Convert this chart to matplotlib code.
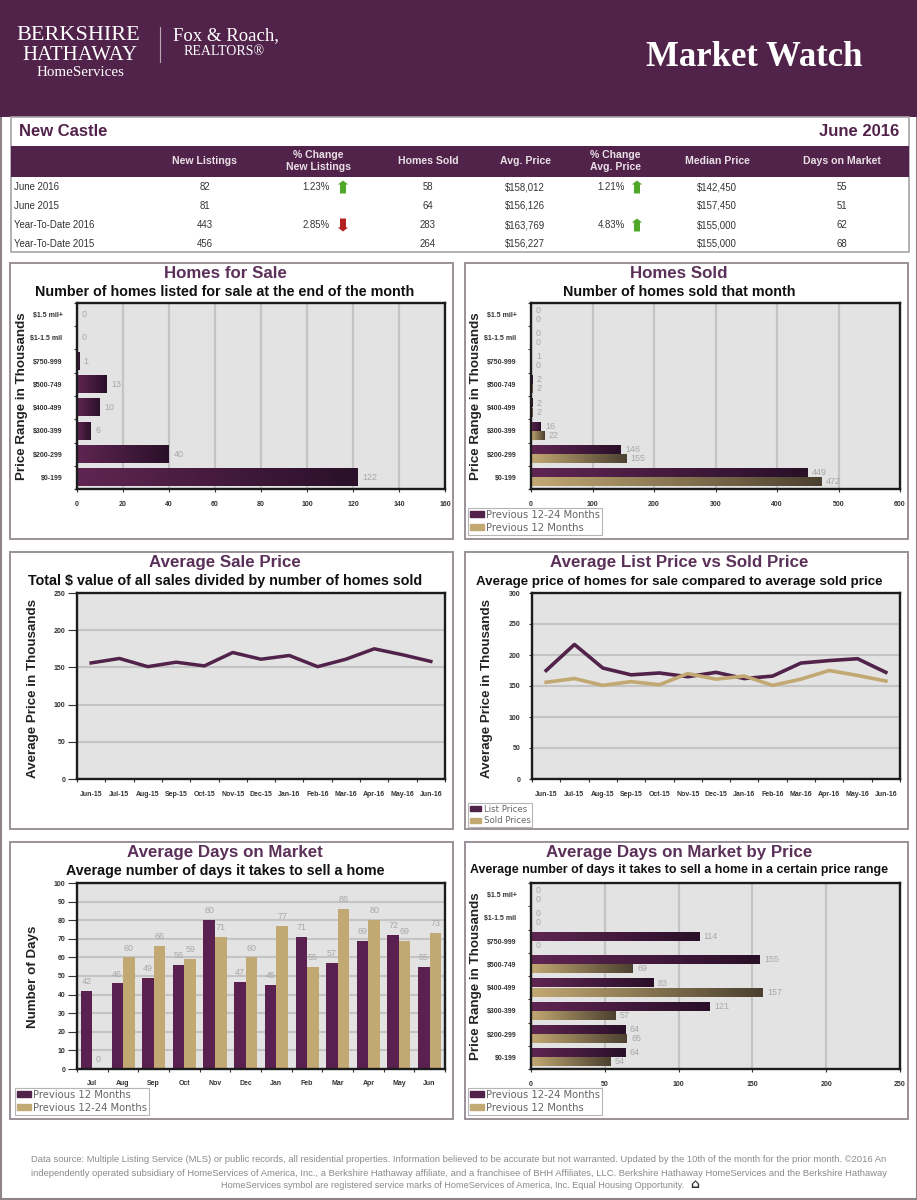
import numpy as np
import matplotlib
matplotlib.use("Agg")
import matplotlib.pyplot as plt
from matplotlib.colors import LinearSegmentedColormap
from matplotlib.patches import Rectangle

plt.rcParams['font.family'] = ['Liberation Sans', 'DejaVu Sans']

# data
price_ranges = ["$0-199", "$200-299", "$300-399", "$400-499", "$500-749", "$750-999", "$1-1.5 mil", "$1.5 mil+"]
for_sale = [122, 40, 6, 10, 13, 1, 0, 0]
sold_prev24 = [449, 146, 16, 2, 2, 1, 0, 0]
sold_prev12 = [472, 155, 22, 2, 2, 0, 0, 0]
months13 = ["Jun-15", "Jul-15", "Aug-15", "Sep-15", "Oct-15", "Nov-15", "Dec-15", "Jan-16", "Feb-16", "Mar-16", "Apr-16", "May-16", "Jun-16"]
sale_price = [156, 162, 151, 157, 152, 170, 161, 166, 151, 161, 175, 167, 158]
list_price = [175, 217, 179, 168, 171, 165, 172, 162, 166, 187, 191, 194, 172]
months12 = ["Jul", "Aug", "Sep", "Oct", "Nov", "Dec", "Jan", "Feb", "Mar", "Apr", "May", "Jun"]
days_prev12 = [42, 46, 49, 56, 80, 47, 45, 71, 57, 69, 72, 55]
days_prev24 = [0, 60, 66, 59, 71, 60, 77, 55, 86, 80, 69, 73]
dom_prev24 = [64, 64, 121, 83, 155, 114, 0, 0]
dom_prev12 = [54, 65, 57, 157, 69, 0, 0, 0]

table_cols = ["New Listings", "% Change\nNew Listings", "Homes Sold", "Avg. Price", "% Change\nAvg. Price", "Median Price", "Days on Market"]
table_rows = ["June 2016", "June 2015", "Year-To-Date 2016", "Year-To-Date 2015"]
new_listings = ["82", "81", "443", "456"]
pct_listings = ["1.23%", "", "2.85%", ""]
homes_sold = ["58", "64", "283", "264"]
avg_price = ["$158,012", "$156,126", "$163,769", "$156,227"]
pct_price = ["1.21%", "", "4.83%", ""]
median_price = ["$142,450", "$157,450", "$155,000", "$155,000"]
days_market = ["55", "51", "62", "68"]

PURPLE = "#52234a"
TAN = "#c2a872"
GREY_TXT = "#a8a8a8"
PLOT_BG = "#e3e3e3"
GRID = "#c4c4c4"
W, H = 917, 1200

fig = plt.figure(figsize=(W / 100, H / 100), dpi=100, facecolor="white")

# page layer, works in pixels
bg = fig.add_axes([0, 0, 1, 1])
bg.set_xlim(0, W)
bg.set_ylim(H, 0)
bg.axis("off")


def box(x0, y0, x1, y1, fc="none", ec="none", lw=1.0):
    bg.add_patch(Rectangle((x0, y0), x1 - x0, y1 - y0, facecolor=fc, edgecolor=ec, linewidth=lw))


box(0.5, 0, W - 0.5, H - 1, ec="#8d8389", lw=1.5)
box(0, 0, W, 117, fc=PURPLE)

serif = "Liberation Serif"
bg.text(78.5, 35.5, "BERKSHIRE", family=serif, color="white", fontsize=16, ha="center", va="center")
bg.text(80, 55.5, "HATHAWAY", family=serif, color="white", fontsize=15, ha="center", va="center")
bg.text(80.5, 72, "HomeServices", family=serif, color="white", fontsize=10.8, ha="center", va="center")
bg.plot([160, 160], [27, 62], color="#b9a5b4", lw=0.8)
bg.text(225.5, 36, "Fox & Roach,", family=serif, color="white", fontsize=13.5, ha="center", va="center")
bg.text(224, 51.5, "REALTORS®", family=serif, color="white", fontsize=10, ha="center", va="center")
bg.text(754, 57, "Market Watch", family=serif, weight="bold", color="white", fontsize=25, ha="center", va="center")

# table
bg.text(19, 132, "New Castle", weight="bold", color=PURPLE, fontsize=12, va="center")
bg.text(899, 132, "June 2016", weight="bold", color=PURPLE, fontsize=12, va="center", ha="right")
box(11, 117, 909, 252, ec="#a9a3a7", lw=1.2)
box(11, 146, 909, 177, fc=PURPLE)
col_x = [205, 318, 428, 525, 615, 717, 842]
row_y = [187, 206, 225, 244]
for x, name in zip(col_x, table_cols):
    bg.text(x, 161.5, name, color="#e8e0e6", weight="bold", fontsize=7.6, ha="center", va="center", linespacing=1.25)
for y, name in zip(row_y, table_rows):
    bg.text(14, y + 3, name, color="#333333", fontsize=6.9, va="baseline")
for cx, col in zip([205, 428, 525, 717, 842], [new_listings, homes_sold, avg_price, median_price, days_market]):
    for y, v in zip(row_y, col):
        bg.text(cx, y + 3, v, color="#333333", fontsize=6.9, ha="center", va="baseline")


def arrow(x, y, up):
    s = 1 if up else -1
    c = "#4fa82a" if up else "#b3201f"
    xs = [x - 3, x + 3, x + 3, x + 5.2, x, x - 5.2, x - 3]
    ys = [y + 6.5 * s, y + 6.5 * s, y - 2.5 * s, y - 2.5 * s, y - 6.5 * s, y - 2.5 * s, y - 2.5 * s]
    bg.fill(xs, ys, color=c, lw=0)


for x_t, x_a, col in [(330, 343, pct_listings), (625, 637, pct_price)]:
    for y, v in zip(row_y, col):
        if v:
            bg.text(x_t, y + 3, v, color="#333333", fontsize=6.9, ha="right", va="baseline")
            arrow(x_a, y, v != "2.85%")

# panels
panels = [(10, 263, 453, 539), (465, 263, 908, 539), (10, 552, 453, 829),
          (465, 552, 908, 829), (10, 842, 453, 1119), (465, 842, 908, 1119)]
for p in panels:
    box(*p, fc="white", ec="#9b9099", lw=1.4)


def make_axes(x0, y0, x1, y1):
    ax = fig.add_axes([x0 / W, 1 - y1 / H, (x1 - x0) / W, (y1 - y0) / H], facecolor=PLOT_BG)
    for s in ax.spines.values():
        s.set_linewidth(1.7)
        s.set_color("#1c1c1c")
        s.set_zorder(6)
    ax.set_axisbelow(True)
    return ax


def titles(cx, y, title, sub, sub_size=10.3):
    bg.text(cx, y + 1, title, color="#5b3059", weight="bold", fontsize=12.2, ha="center", va="center")
    bg.text(cx, y + 19.5, sub, color="#111111", weight="bold", fontsize=sub_size, ha="center", va="center")


def y_title(ax, text, x, y):
    ax.set_ylabel(text, fontsize=9.6, color="#222222", weight="bold", va="center")
    ax.yaxis.set_label_coords((x + 3) / W, 1 - (y - 1) / H, transform=fig.transFigure)


def small_ticks(ax):
    for t in ax.get_xticklabels(which="both") + ax.get_yticklabels(which="both"):
        t.set_fontsize(5.0)
        t.set_fontweight("bold")
        t.set_color("#333333")


def shade(ax, bars, colors):
    # gradient fill along each bar
    cmap = LinearSegmentedColormap.from_list("g", colors)
    grad = np.linspace(0, 1, 64).reshape(1, -1)
    for b in bars:
        if b.get_width() > 0:
            x, y, w, h = b.get_bbox().bounds
            ax.imshow(grad, extent=(x, x + w, y, y + h), cmap=cmap, aspect="auto", zorder=3, interpolation="bilinear")


def hbars(ax, series, xmax, step):
    # series: list of (values, colors), first one drawn on top of the group
    n = len(series)
    hgt = 0.78 / n
    pos = np.arange(len(price_ranges)) + 0.5
    for i, (vals, cols) in enumerate(series):
        off = (n - 1) / 2 * hgt - i * hgt
        bars = ax.barh(pos + off, vals, height=hgt * 0.96, color=cols[0], zorder=2)
        shade(ax, bars, cols)
        ax.bar_label(bars, padding=3.2, color=GREY_TXT, fontsize=6.4)
    ax.set_xlim(0, xmax)
    ax.set_ylim(0, len(price_ranges))
    ax.set_xticks(np.arange(0, xmax + step, step))
    ax.set_yticks(np.arange(0, len(price_ranges) + 1))
    ax.set_yticklabels([])
    ax.set_yticks(pos, price_ranges, minor=True)
    ax.grid(axis="x", color=GRID, lw=1.6, zorder=1)
    ax.tick_params(axis="x", length=2, pad=6.5, color="#333333")
    ax.tick_params(axis="y", which="major", length=2.5, color="#333333")
    ax.tick_params(axis="y", which="minor", length=0, pad=10.5)
    small_ticks(ax)


def legend(ax, handles, labels, x, y, size=7.2):
    leg = ax.legend(handles, labels, loc="upper left", bbox_to_anchor=(x / W, 1 - y / H),
                    bbox_transform=fig.transFigure, fancybox=False, framealpha=1, edgecolor="#b5b5b5",
                    prop={"family": "DejaVu Sans", "size": size}, borderaxespad=0, borderpad=0.2,
                    handlelength=1.35, handleheight=0.55, handletextpad=0.25, labelspacing=0.3, labelcolor="#666666")
    leg.get_frame().set_linewidth(0.8)
    return leg


grad_p = ["#5f2552", "#2a1029"]
grad_t = ["#c2a872", "#4c4130"]

# Homes for Sale
ax1 = make_axes(77, 303, 445, 489)
hbars(ax1, [(for_sale, grad_p)], 160, 20)
y_title(ax1, "Price Range in Thousands", 19, 397)
titles(225, 272, "Homes for Sale", "Number of homes listed for sale at the end of the month")

# Homes Sold
ax2 = make_axes(531, 303, 900, 489)
hbars(ax2, [(sold_prev24, grad_p), (sold_prev12, grad_t)], 600, 100)
y_title(ax2, "Price Range in Thousands", 473, 397)
titles(679, 272, "Homes Sold", "Number of homes sold that month")
legend(ax2, [Rectangle((0, 0), 1, 1, color=PURPLE), Rectangle((0, 0), 1, 1, color=TAN)],
       ["Previous 12-24 Months", "Previous 12 Months"], 468, 508)


def line_axes(ax, ymax, length, pad):
    ax.set_xlim(0, 13)
    ax.set_ylim(0, ymax)
    ax.set_yticks(np.arange(0, ymax + 50, 50))
    ax.set_xticks(np.arange(0, 14))
    ax.set_xticklabels([])
    ax.set_xticks(np.arange(13) + 0.5, months13, minor=True)
    ax.grid(axis="y", color=GRID, lw=1.5, zorder=1)
    ax.tick_params(axis="y", length=length, pad=pad, color="#333333")
    ax.tick_params(axis="x", which="major", length=2.5, color="#333333")
    ax.tick_params(axis="x", which="minor", length=0, pad=9)
    small_ticks(ax)


# Average Sale Price
ax3 = make_axes(77, 593, 445, 779)
ax3.plot(np.arange(13) + 0.5, sale_price, color=PURPLE, lw=2.5, zorder=3)
line_axes(ax3, 250, 6.5, 2)
y_title(ax3, "Average Price in Thousands", 30, 689)
titles(225, 562, "Average Sale Price", "Total $ value of all sales divided by number of homes sold", 10.25)

# Average List Price vs Sold Price
ax4 = make_axes(532, 593, 900, 779)
h_list, = ax4.plot(np.arange(13) + 0.5, list_price, color=PURPLE, lw=2.6, zorder=3)
h_sold, = ax4.plot(np.arange(13) + 0.5, sale_price, color=TAN, lw=2.6, zorder=4)
line_axes(ax4, 300, 2.5, 6)
y_title(ax4, "Average Price in Thousands", 484, 689)
titles(679, 562, "Average List Price vs Sold Price", "Average price of homes for sale compared to average sold price", 9.65)
legend(ax4, [Rectangle((0, 0), 1, 1, color=PURPLE), Rectangle((0, 0), 1, 1, color=TAN)],
       ["List Prices", "Sold Prices"], 468, 803, size=6.2)

# Average Days on Market
ax5 = make_axes(77, 883, 445, 1069)
pos = np.arange(12) + 0.5
b_a = ax5.bar(pos - 0.19, days_prev12, width=0.37, color="#5a2150", zorder=3)
b_b = ax5.bar(pos + 0.19, days_prev24, width=0.37, color=TAN, zorder=3)
ax5.bar_label(b_a, padding=3.5, color=GREY_TXT, fontsize=6.4)
ax5.bar_label(b_b, padding=3.5, color=GREY_TXT, fontsize=6.4)
ax5.set_xlim(0, 12)
ax5.set_ylim(0, 100)
ax5.set_yticks(np.arange(0, 110, 10))
ax5.set_xticks(np.arange(0, 13))
ax5.set_xticklabels([])
ax5.set_xticks(pos, months12, minor=True)
ax5.grid(axis="y", color=GRID, lw=1.5, zorder=1)
ax5.tick_params(axis="y", length=6.5, pad=2, color="#333333")
ax5.tick_params(axis="x", which="major", length=2.5, color="#333333")
ax5.tick_params(axis="x", which="minor", length=0, pad=8)
small_ticks(ax5)
y_title(ax5, "Number of Days", 30, 978)
titles(225, 851, "Average Days on Market", "Average number of days it takes to sell a home")
legend(ax5, [Rectangle((0, 0), 1, 1, color=PURPLE), Rectangle((0, 0), 1, 1, color=TAN)],
       ["Previous 12 Months", "Previous 12-24 Months"], 15, 1088)

# Average Days on Market by Price
ax6 = make_axes(531, 883, 900, 1069)
hbars(ax6, [(dom_prev24, grad_p), (dom_prev12, grad_t)], 250, 50)
y_title(ax6, "Price Range in Thousands", 473, 977)
titles(679, 851, "Average Days on Market by Price", "Average number of days it takes to sell a home in a certain price range", 8.95)
legend(ax6, [Rectangle((0, 0), 1, 1, color=PURPLE), Rectangle((0, 0), 1, 1, color=TAN)],
       ["Previous 12-24 Months", "Previous 12 Months"], 468, 1088)

# footer
foot = ["Data source: Multiple Listing Service (MLS) or public records, all residential properties. Information believed to be accurate but not warranted. Updated by the 10th of the month for the prior month. ©2016 An",
        "independently operated subsidiary of HomeServices of America, Inc., a Berkshire Hathaway affiliate, and a franchisee of BHH Affiliates, LLC. Berkshire Hathaway HomeServices and the Berkshire Hathaway"]
for y, line in zip([1160, 1173], foot):
    bg.text(459, y, line, color="#8a8a8a", fontsize=6.75, ha="center", va="center")
bg.text(453, 1185, "HomeServices symbol are registered service marks of HomeServices of America, Inc. Equal Housing Opportunity.",
        color="#8a8a8a", fontsize=6.6, ha="center", va="center")
bg.text(695, 1184, "⌂", family="DejaVu Sans", color="#333333", weight="bold", fontsize=9, ha="center", va="center")

fig.savefig("out.png", dpi=100)
